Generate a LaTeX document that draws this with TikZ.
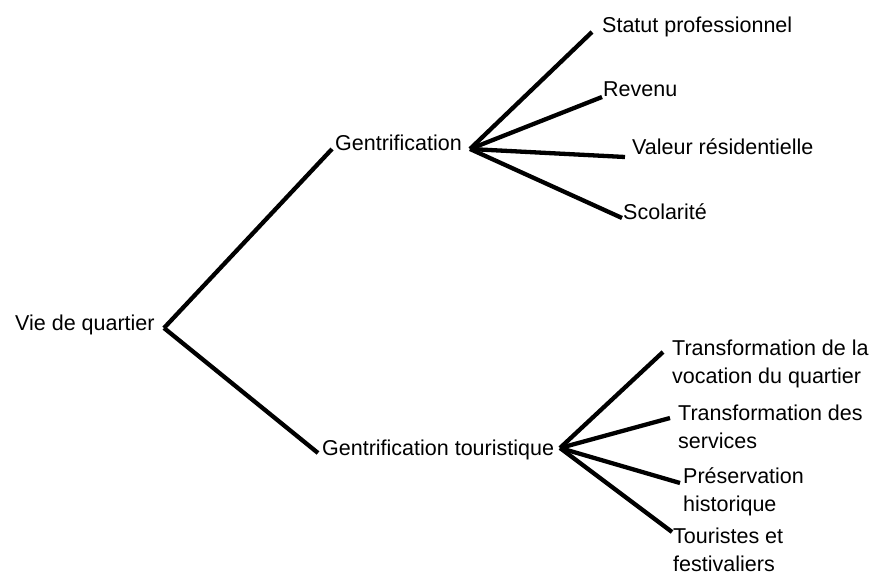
\documentclass[tikz,border=0pt]{standalone}
\usepackage{fontspec}
\setmainfont{Liberation Sans}
\usepackage{tikz}
\usetikzlibrary{positioning}

\begin{document}
\begin{tikzpicture}[x=1pt, y=-1pt,
            label/.style={font=\fontsize{21.5}{28}\selectfont, inner sep=0pt, anchor=base west},
            leaf/.style={label, align=left},
            branch/.style={line width=4.3pt}]

            \useasboundingbox (0,0) rectangle (872,577);

            % Root and the two themes
            \node[label] (root) at (15,330) {Vie de quartier};
            \node[label] (gent) at (335,151) {Gentrification};
            \node[label] (tour) at (322,455) {Gentrification touristique};

            % Junction points next to the labels
            \coordinate (rootj) at (164,328);
            \coordinate (gentj) at (470,149);
            \coordinate (tourj) at (560,448);

            \draw[branch] (rootj) -- ([shift={(-3pt,2pt)}]gent.base west);
            \draw[branch] (rootj) -- ([shift={(-4pt,2pt)}]tour.base west);

            % Indicators of gentrification
            \node[label] (statut) at (602,33) {Statut professionnel};
            \node[label] (revenu) at (603,97) {Revenu};
            \node[label] (valeur) at (632,155) {Valeur résidentielle};
            \node[label] (scol) at (623,220) {Scolarité};

            \draw[branch] (gentj) -- ([shift={(-10pt,1pt)}]statut.base west);
            \draw[branch] (gentj) -- ([shift={(-1pt,0pt)}]revenu.base west);
            \draw[branch] (gentj) -- ([shift={(-7pt,-2pt)}]valeur.base west);
            \draw[branch] (gentj) -- ([shift={(-1pt,2pt)}]scol.base west);

            % Indicators of tourist gentrification (anchored on the last line)
            \node[leaf] (vocation) at (672,383) {Transformation de la\\vocation du quartier};
            \node[leaf] (services) at (678,448) {Transformation des\\services};
            \node[leaf] (preserv) at (683,511) {Préservation\\historique};
            \node[leaf] (touristes) at (673,571) {Touristes et\\festivaliers};

            \draw[branch] (tourj) -- ([shift={(-9pt,31pt)}]vocation.base west);
            \draw[branch] (tourj) -- ([shift={(-8pt,30pt)}]services.base west);
            \draw[branch] (tourj) -- ([shift={(-3pt,28pt)}]preserv.base west);
            \draw[branch] (tourj) -- ([shift={(-1pt,39pt)}]touristes.base west);
        \end{tikzpicture}
\end{document}
